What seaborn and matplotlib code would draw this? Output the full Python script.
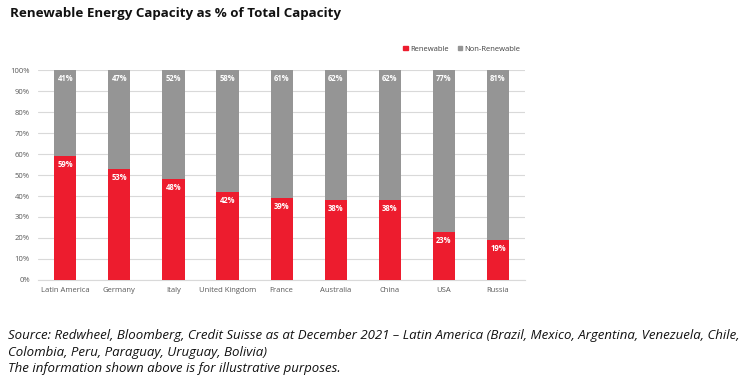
import matplotlib
matplotlib.use("Agg")
import matplotlib.pyplot as plt
import matplotlib.ticker as mticker
import pandas as pd
import seaborn as sns

countries = ["Latin America", "Germany", "Italy", "United Kingdom", "France",
             "Australia", "China", "USA", "Russia"]
renewable = [59, 53, 48, 42, 39, 38, 38, 23, 19]
non_renewable = [41, 47, 52, 58, 61, 62, 62, 77, 81]

red = "#ED1C2E"
grey = "#959595"

sns.set_style("white")
plt.rcParams["font.family"] = ["Open Sans", "DejaVu Sans"]

df = pd.DataFrame({"Country": countries, "Renewable": renewable,
                   "NonRenewable": non_renewable})
df["Total"] = df["Renewable"] + df["NonRenewable"]

fig = plt.figure(figsize=(7.48, 3.87), dpi=100)
ax = fig.add_axes([0.051, 0.2765, 0.651, 0.5426])

sns.barplot(data=df, x="Country", y="Total", color=grey, width=0.41,
            saturation=1, linewidth=0, ax=ax, zorder=2)
sns.barplot(data=df, x="Country", y="Renewable", color=red, width=0.41,
            saturation=1, linewidth=0, ax=ax, zorder=3)

for i, (r, n) in enumerate(zip(renewable, non_renewable)):
    ax.text(i, r - 2, f"{r}%", ha="center", va="top", color="white",
            fontsize=5.5, fontweight="bold", zorder=4)
    ax.text(i, 100 - 2, f"{n}%", ha="center", va="top", color="white",
            fontsize=5.5, fontweight="bold", zorder=4)

ax.set_ylim(0, 100)
ax.set_xlim(-0.5, len(countries) - 0.5)
ax.yaxis.set_major_locator(mticker.MultipleLocator(10))
ax.yaxis.set_major_formatter(mticker.FuncFormatter(lambda v, _: f"{v:.0f}%"))
ax.grid(axis="y", color="#d9d9d9", linewidth=0.8, zorder=0)
ax.set_axisbelow(True)
for s in ["top", "right", "left"]:
    ax.spines[s].set_visible(False)
ax.spines["bottom"].set_color("#d9d9d9")
ax.tick_params(axis="both", length=0, labelsize=5.5, labelcolor="#595959")
ax.tick_params(axis="y", pad=6)
ax.tick_params(axis="x", pad=5)
ax.set_xlabel("")
ax.set_ylabel("")

handles = [plt.Rectangle((0, 0), 1, 1, color=red),
           plt.Rectangle((0, 0), 1, 1, color=grey)]
fig.legend(handles, ["Renewable", "Non-Renewable"], loc="center right",
           bbox_to_anchor=(0.705, 0.873), ncol=2, frameon=False,
           fontsize=5.5, handlelength=0.6, handleheight=0.6,
           handletextpad=0.3, columnspacing=1.2, labelcolor="#404040")

fig.text(0.013, 0.965, "Renewable Energy Capacity as % of Total Capacity",
         fontsize=9.6, fontweight="bold", va="center", color="#111111")

footer = ("Source: Redwheel, Bloomberg, Credit Suisse as at December 2021 \u2013 "
          "Latin America (Brazil, Mexico, Argentina, Venezuela, Chile,\n"
          "Colombia, Peru, Paraguay, Uruguay, Bolivia)\n"
          "The information shown above is for illustrative purposes.")
fig.text(0.011, 0.0904, footer, fontsize=9.5, style="italic", va="center",
         color="#111111", linespacing=1.35)

fig.savefig("out.png", dpi=100)
